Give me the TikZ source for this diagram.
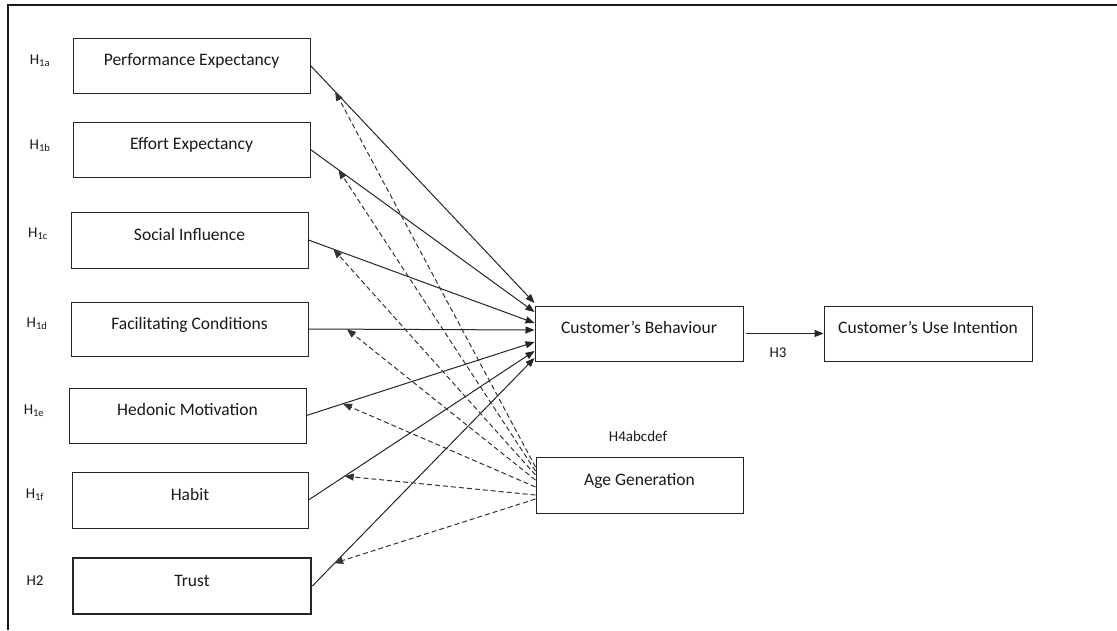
\documentclass[tikz,border=0pt]{standalone}
\usepackage{fontspec}
\setmainfont{Carlito}
\usetikzlibrary{arrows.meta,calc}
\begin{document}
\begin{tikzpicture}[x=1pt,y=-1pt,
  box/.style={draw=black!85, line width=1pt, inner sep=0pt, minimum width=237pt, minimum height=55pt,
    font=\fontsize{17.5}{20}\selectfont, text=black!90, text height=12pt, text depth=12pt},
  hlab/.style={font=\fontsize{15}{17}\selectfont, text=black!90, inner sep=0pt},
  arr/.style={draw=black!85, line width=1pt, -{Triangle[length=9pt,width=7pt]}},
  darr/.style={draw=black!80, line width=1pt, dash pattern=on 5pt off 3pt, -{Triangle[length=9pt,width=7pt]}}
]
\useasboundingbox (0,0) rectangle (1117,630);
\fill[white] (0,0) rectangle (1117,630);
\draw[line width=2pt, black!90] (1117,5) -- (8,5) -- (8,630);

% left boxes
\node[box] (pe) at (191.5,65.5) {Performance Expectancy};
\node[box] (ee) at (191.5,149.5) {Effort Expectancy};
\node[box, minimum height=56pt] (si) at (189.5,240) {Social Influence};
\node[box, minimum height=54pt] (fc) at (189.5,329) {Facilitating Conditions};
\node[box] (hm) at (187.5,415.5) {Hedonic Motivation};
\node[box, minimum width=236pt, minimum height=56pt] (hb) at (190,500) {Habit};
\node[box, minimum width=238pt, minimum height=56pt, line width=1.7pt] (tr) at (192,586) {Trust};

% right boxes
\node[box, minimum width=208pt] (cb) at (639,333.5) {Customer’s Behaviour};
\node[box, minimum width=208pt] (cui) at (928,333.5) {Customer’s Use Intention};
\node[box, minimum width=207pt, minimum height=56pt] (ag) at (639.5,485) {Age Generation};

% hypothesis labels
\node[hlab] (l1a) at (40,61) {H\textsubscript{1a}};
\node[hlab] (l1b) at (40,146) {H\textsubscript{1b}};
\node[hlab] (l1c) at (38,234) {H\textsubscript{1c}};
\node[hlab] (l1d) at (37,324) {H\textsubscript{1d}};
\node[hlab] (l1e) at (34,411) {H\textsubscript{1e}};
\node[hlab] (l1f) at (35,495) {H\textsubscript{1f}};
\node[hlab] (l2) at (35,581) {H2};
\node[hlab] (l3) at (778,353) {H3};
\node[hlab] (l4) at (638,436) {H4abcdef};

% end points on Customer's Behaviour
\coordinate (e1) at ([yshift=30.5pt]cb.west);
\coordinate (e2) at ([yshift=21.5pt]cb.west);
\coordinate (e3) at ([yshift=10.5pt]cb.west);
\coordinate (e4) at ([yshift=3.5pt]cb.west);
\coordinate (e5) at ([yshift=-8.5pt]cb.west);
\coordinate (e6) at ([yshift=-17.5pt]cb.west);
\coordinate (e7) at ([yshift=-24.5pt]cb.west);

% solid arrows
\draw[arr] (pe.east) -- (e1);
\draw[arr] (ee.east) -- (e2);
\draw[arr] (si.east) -- (e3);
\draw[arr] (fc.east) -- (e4);
\draw[arr] (hm.east) -- (e5);
\draw[arr] (hb.east) -- (e6);
\draw[arr] ([xshift=0.5pt]tr.east) -- (e7);
\draw[arr] ([xshift=2pt]cb.east) -- (cui.west);

% moderation points on the solid arrows
\coordinate (m1) at ($(pe.east)!0.11!(e1)$);
\coordinate (m2) at ($(ee.east)!0.125!(e2)$);
\coordinate (m3) at ($(si.east)!0.11!(e3)$);
\coordinate (m4) at ($(fc.east)!0.17!(e4)$);
\coordinate (m5) at ($(hm.east)!0.16!(e5)$);
\coordinate (m6) at ($(hb.east)!0.16!(e6)$);
\coordinate (m7) at ($(tr.east)!0.10!(e7)$);

% dashed arrows from Age Generation
\draw[darr] ([yshift=18pt]ag.west) -- (m1);
\draw[darr] ([yshift=14pt]ag.west) -- (m2);
\draw[darr] ([yshift=10pt]ag.west) -- (m3);
\draw[darr] ([yshift=5pt]ag.west) -- (m4);
\draw[darr] ([yshift=-2pt]ag.west) -- (m5);
\draw[darr] ([yshift=-10pt]ag.west) -- (m6);
\draw[darr] ([yshift=-14pt]ag.west) -- (m7);
\end{tikzpicture}
\end{document}
